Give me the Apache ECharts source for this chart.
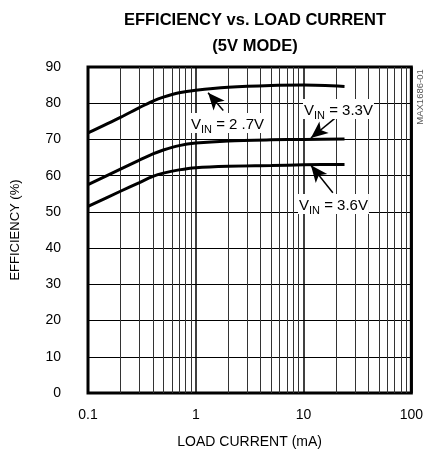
<!DOCTYPE html>
<html>
<head>
<meta charset="utf-8">
<script src="https://cdn.jsdelivr.net/npm/echarts@6/dist/echarts.min.js"></script>
<style>
  html, body { margin: 0; padding: 0; background: #fff; }
  #main { width: 426px; height: 454px; }
</style>
</head>
<body>
<div id="main"></div>
<script>
// load current (mA) and efficiency (%)
var loadCurrent = [0.1, 0.2, 0.3, 0.4, 0.5, 0.7, 1, 2, 5, 10, 24];
var eff27 = [71.8, 76.1, 78.8, 80.6, 81.7, 82.9, 83.6, 84.4, 84.9, 85.0, 84.6];
var eff33 = [57.5, 61.8, 64.3, 66.0, 67.1, 68.3, 69.0, 69.6, 69.9, 70.0, 70.1];
var eff36 = [51.5, 55.7, 58.1, 59.8, 60.7, 61.6, 62.2, 62.6, 62.8, 63.0, 63.1];
var minorGrid = [0.2, 0.3, 0.4, 0.5, 0.6, 0.7, 0.8, 0.9, 2, 3, 4, 5, 6, 7, 8, 9, 20, 30, 40, 50, 60, 70, 80, 90];
var yTicks = [0, 10, 20, 30, 40, 50, 60, 70, 80, 90];

// arrow pointers [tail, head] in data units
var arrow27 = [[1.80, 78.0], [1.30, 82.9]];
var arrow33 = [[19.5, 75.8], [11.7, 70.4]];
var arrow36 = [[18.7, 55.3], [11.7, 62.9]];

var FONT = "'Liberation Sans', Arial, sans-serif";

var myChart = echarts.init(document.getElementById('main'));

function pairs(ys) {
    return loadCurrent.map(function (x, i) { return [x, ys[i]]; });
}

function arrowLine(a) {
    return [{ coord: a[0] }, { coord: a[1] }];
}

function vinLabel(x, y, v) {
    return {
        type: 'text',
        left: x,
        top: y,
        z: 100,
        style: {
            text: '{v|V}{s|IN}{v| = ' + v + '}',
            backgroundColor: '#fff',
            padding: [1, 1, 1, 1],
            rich: {
                v: { fontFamily: FONT, fontSize: 15, fill: '#000', verticalAlign: 'bottom', lineHeight: 18 },
                s: { fontFamily: FONT, fontSize: 11, fill: '#000', verticalAlign: 'bottom', lineHeight: 14, padding: [0, 0, -3, 0] }
            }
        }
    };
}

var lineBase = {
    type: 'line',
    smooth: 0.3,
    symbol: 'none',
    silent: true,
    lineStyle: { color: '#000', width: 3 }
};

myChart.setOption({
    animation: false,
    backgroundColor: '#fff',
    title: {
        text: 'EFFICIENCY vs. LOAD CURRENT\n(5V MODE)',
        left: 250,
        textAlign: 'center',
        top: 2,
        textStyle: { fontFamily: FONT, fontSize: 16.5, fontWeight: 'bold', color: '#000', lineHeight: 26 }
    },
    grid: {
        left: 88,
        right: 12,
        top: 67,
        bottom: 60,
        show: true,
        borderColor: '#000',
        borderWidth: 3,
        backgroundColor: 'transparent'
    },
    xAxis: {
        type: 'log',
        logBase: 10,
        min: 0.1,
        max: 100,
        name: 'LOAD CURRENT (mA)',
        nameLocation: 'middle',
        nameGap: 42,
        nameTextStyle: { fontFamily: FONT, fontSize: 14, color: '#000' },
        axisLine: { show: false },
        axisTick: { show: false },
        axisLabel: {
            margin: 15,
            fontFamily: FONT,
            fontSize: 14,
            color: '#000',
            formatter: function (v) { return String(+v.toPrecision(3)); }
        },
        splitLine: { show: true, lineStyle: { color: '#000', width: 1.5 } }
    },
    yAxis: {
        type: 'value',
        min: yTicks[0],
        max: yTicks[yTicks.length - 1],
        interval: 10,
        name: 'EFFICIENCY (%)',
        nameLocation: 'middle',
        nameGap: 66,
        nameTextStyle: { fontFamily: FONT, fontSize: 13, color: '#000' },
        axisLine: { show: false },
        axisTick: { show: false },
        axisLabel: { margin: 27, fontFamily: FONT, fontSize: 14, color: '#000' },
        splitLine: { show: true, lineStyle: { color: '#000', width: 1 } }
    },
    series: [
        Object.assign({}, lineBase, {
            name: '2.7V',
            data: pairs(eff27),
            z: 5,
            markLine: {
                silent: true,
                symbol: ['none', 'none'],
                label: { show: false },
                lineStyle: { color: '#333', width: 1, type: 'solid' },
                z: 1,
                data: minorGrid.map(function (v) { return { xAxis: v }; })
            }
        }),
        Object.assign({}, lineBase, {
            name: '3.3V',
            data: pairs(eff33),
            z: 5,
            markLine: {
                silent: true,
                symbol: ['none', 'arrow'],
                symbolSize: [11, 17],
                label: { show: false },
                lineStyle: { color: '#000', width: 1.5, type: 'solid' },
                data: [arrowLine(arrow27), arrowLine(arrow33), arrowLine(arrow36)]
            }
        }),
        Object.assign({}, lineBase, {
            name: '3.6V',
            data: pairs(eff36),
            z: 5
        })
    ],
    graphic: [
        vinLabel(190, 113, '2 .7V'),
        vinLabel(303, 99, '3.3V'),
        vinLabel(298, 194, '3.6V'),
        {
            type: 'text',
            x: 420,
            y: 97,
            rotation: Math.PI / 2,
            style: {
                text: 'MAX1686-01',
                fontFamily: FONT,
                fontSize: 9.5,
                fill: '#555',
                align: 'center',
                verticalAlign: 'middle'
            }
        }
    ]
});
</script>
</body>
</html>
